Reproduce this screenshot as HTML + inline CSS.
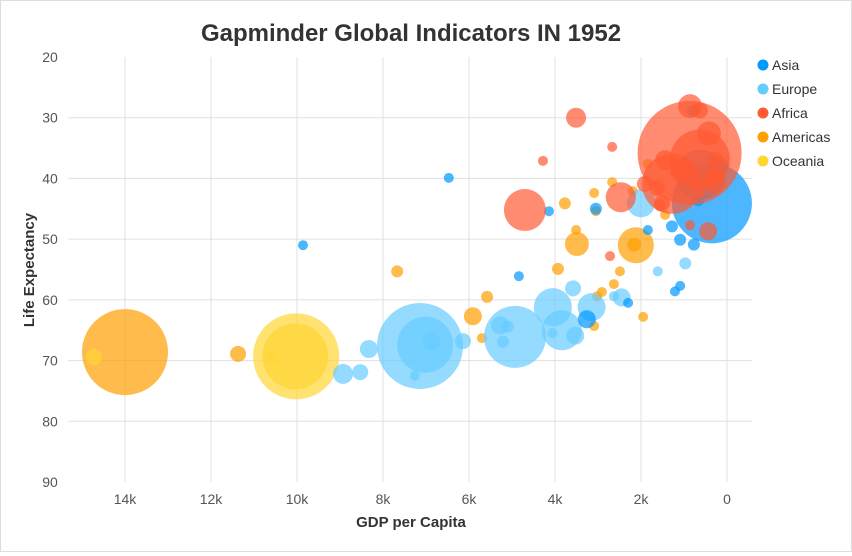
<!DOCTYPE html>
<html><head><meta charset="utf-8"><style>
body{margin:0;background:#fff;font-family:"Liberation Sans",sans-serif}
#wrap{width:850px;height:550px;border:1px solid #ddd;position:relative}
</style></head><body>
<div id="wrap">
<svg id="svg" width="850" height="550"></svg>
</div>
<script>
const seriesNames=["Asia","Europe","Africa","Americas","Oceania"];
const seriesColors=["#0099ff","#66ccff","#ff5a33","#ffa000","#ffd633"];
const xTicks=[14000,12000,10000,8000,6000,4000,2000,0];
const xTickLabels=["14k","12k","10k","8k","6k","4k","2k","0"];
const yTicks=[20,30,40,50,60,70,80,90];
// series per point: index into seriesNames
const pointSeries=[
3,3,3,3,3,3,3,3,3,3,3,3,3,3,3,3,3,3,3,3,3,3,3,3,
4,4,4,4,
1,1,1,1,1,1,1,1,1,1,1,1,1,1,1,1,1,1,1,1,1,1,1,
0,0,0,0,0,0,0,0,0,0,0,0,0,0,0,0,0,0,
2,2,2,2,2,2,2,2,2,2,2,2,2,2,2,2,2,2,2,2,2,2,2,2,2];
const gdp=[
14000,11370,7670,5910,5580,5700,3930,3770,3490,3510,3090,3050,2670,2910,3020,2630,2490,3090,2120,1950,1840,2190,2160,1440,
10020,10040,10600,14720,
7140,7020,4930,4050,3840,8930,8530,8330,6880,6140,5280,5100,5210,3580,3530,3150,2450,2630,1610,970,2000,7260,4060,
350,630,6470,9860,4140,4840,3050,3260,2300,1840,1280,1090,770,1210,1090,790,670,160,
3510,4280,2670,4700,2470,870,1280,630,1440,1630,1030,630,860,420,440,2720,1140,300,860,1560,1910,1510,630,300,270];
const life=[
68.6,68.9,55.3,62.7,59.5,66.3,54.9,44.1,50.8,48.5,42.4,45.4,40.6,58.7,59.4,57.4,55.3,64.3,51.0,62.8,37.6,42.1,50.9,46.0,
69.3,69.3,69.5,69.4,
67.6,67.4,66.1,61.2,65.0,72.2,71.9,68.1,66.8,66.8,64.2,64.4,66.9,58.1,65.9,61.2,59.6,59.4,55.3,54.0,44.1,72.5,65.5,
44.1,39.4,39.9,51.0,45.4,56.1,45.0,63.2,60.5,48.5,47.9,50.1,50.9,58.6,57.7,28.9,43.6,37.8,
30.0,37.1,34.8,45.2,43.1,35.8,40.9,36.9,37.0,41.6,38.4,28.8,28.1,32.6,48.7,52.8,38.9,40.6,47.7,44.4,40.9,44.1,42.4,39.5,36.9];
const size=[
1849,64,36,81,36,25,36,36,144,25,25,25,25,25,25,25,25,25,324,25,25,25,49,25,
1849,1089,25,64,
1849,784,961,361,400,100,64,81,81,64,81,36,36,64,81,196,81,25,25,36,196,25,25,
1600,625,25,25,25,25,36,81,25,25,36,36,36,25,25,36,36,64,
100,25,25,441,225,2704,900,900,100,64,100,64,144,144,81,25,64,144,25,36,64,64,25,64,64];
const svg=document.getElementById('svg');
const NS='http://www.w3.org/2000/svg';
const L=124,R=726,T=56,B=481;
const xS=v=>R-(v/14000)*(R-L);
const yS=v=>T+(v-20)/70*(B-T);
function mk(tag,attrs,parent){const e=document.createElementNS(NS,tag);for(const k in attrs)e.setAttribute(k,attrs[k]);(parent||svg).appendChild(e);return e;}
const grid=mk('g',{});


yTicks.forEach(t=>{
 if(t>20&&t<90){const l=mk('line',{x1:67,x2:751,y1:yS(t),y2:yS(t),stroke:'#e0e0e0'},grid);
 
 }
 const tx=mk('text',{x:49,y:yS(t)+5,'text-anchor':'middle','font-size':14,fill:'#555'});
 tx.textContent=t;
 
 
});
xTicks.forEach((t,i)=>{
 const l=mk('line',{x1:xS(t),x2:xS(t),y1:T,y2:B,stroke:'#e0e0e0'},grid);
 
 
 const tx=mk('text',{x:xS(t),y:503,'text-anchor':'middle','font-size':14,fill:'#555'});
 tx.textContent=xTickLabels[i];
 
 
});
const bub=mk('g',{});


gdp.forEach((g,i)=>{
 const c=mk('circle',{cx:xS(g),cy:yS(life[i]),r:Math.sqrt(size[i]),fill:seriesColors[pointSeries[i]],'fill-opacity':0.7},bub);
 
 
});
const title=mk('text',{x:410,y:40,'text-anchor':'middle','font-size':24,'font-weight':'bold',fill:'#333'});
title.textContent='Gapminder Global Indicators IN 1952';


const xt=mk('text',{x:410,y:526,'text-anchor':'middle','font-size':15,'font-weight':'bold',fill:'#333'});
xt.textContent='GDP per Capita';


const yt=mk('text',{x:0,y:0,transform:'translate(33,269) rotate(-90)','text-anchor':'middle','font-size':15,'font-weight':'bold',fill:'#333'});
yt.textContent='Life Expectancy';


seriesNames.forEach((n,i)=>{
 const g=mk('g',{});
 
 
 mk('circle',{cx:762,cy:64+24*i,r:5.5,fill:seriesColors[i]},g);
 const t=mk('text',{x:771,y:69+24*i,'font-size':14,fill:'#333'},g);
 t.textContent=n;
});
</script>
</body></html>
